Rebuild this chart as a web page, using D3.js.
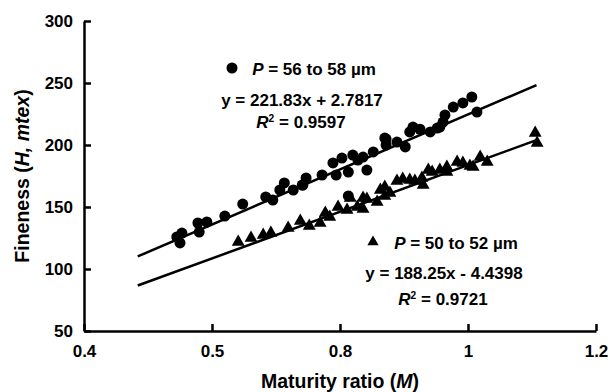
<!DOCTYPE html>
<html>
<head>
<meta charset="utf-8">
<script src="https://cdn.jsdelivr.net/npm/d3@7"></script>
<style>
  body { margin: 0; background: #fff; }
  svg text { font-family: "Liberation Sans", Arial, sans-serif; font-weight: bold; fill: #000; }
</style>
</head>
<body>
<svg id="chart" width="613" height="392"></svg>
<script>
// x tick values and the labels as printed on the original
const xTicks = [0.4, 0.6, 0.8, 1.0, 1.2];
const xTickLabels = ["0.4", "0.5", "0.8", "1", "1.2"];
const yTicks = [50, 100, 150, 200, 250, 300];

// P = 56 to 58 um (circles)
const circleX = [0.545, 0.553, 0.550, 0.578, 0.580, 0.592, 0.620, 0.648, 0.684, 0.695,
  0.706, 0.713, 0.727, 0.741, 0.747, 0.772, 0.789, 0.794, 0.803, 0.813,
  0.820, 0.828, 0.836, 0.842, 0.852, 0.870, 0.872, 0.889, 0.902, 0.909,
  0.914, 0.925, 0.941, 0.952, 0.956, 0.964, 0.961, 0.977, 0.992, 1.006,
  1.014, 0.813, 0.742, 0.872];
const circleY = [125.8, 129.0, 121.0, 137.1, 129.8, 137.9, 142.7, 152.4, 158.1, 155.6,
  163.7, 169.4, 163.7, 167.7, 173.4, 175.8, 185.5, 175.8, 189.5, 178.2,
  191.9, 187.9, 190.3, 179.8, 194.4, 205.6, 200.0, 202.4, 198.4, 210.5,
  214.5, 212.7, 210.5, 213.7, 214.5, 224.2, 218.5, 230.6, 233.9, 238.7,
  226.6, 158.9, 167.7, 204.8];

// P = 50 to 52 um (triangles)
const triX = [0.641, 0.661, 0.680, 0.692, 0.719, 0.738, 0.752, 0.769, 0.777, 0.784,
  0.797, 0.811, 0.816, 0.827, 0.836, 0.836, 0.842, 0.858, 0.863, 0.870,
  0.870, 0.878, 0.889, 0.898, 0.909, 0.917, 0.928, 0.930, 0.938, 0.944,
  0.956, 0.967, 0.967, 0.983, 0.992, 1.003, 1.008, 1.019, 1.030, 1.105, 1.108];
const triY = [121.8, 125.0, 127.4, 129.0, 133.1, 138.7, 134.7, 137.1, 145.2, 141.9,
  150.0, 147.6, 157.3, 150.0, 148.4, 157.3, 156.5, 154.0, 163.7, 158.9,
  166.1, 161.3, 171.0, 172.6, 171.8, 171.0, 173.4, 167.7, 179.8, 178.2,
  179.8, 178.2, 182.3, 186.3, 185.5, 183.1, 182.3, 190.3, 186.3, 209.7, 201.6];

// trend lines: y = slope * x + intercept
const fitSlope = [221.83, 188.25];
const fitIntercept = [2.7817, -4.4398];
const fitRange = [0.484, 1.107];

const svg = d3.select("#chart");

const x = d3.scaleLinear().domain([0.4, 1.2]).range([84, 596]);
const y = d3.scaleLinear().domain([50, 300]).range([331, 21]);

// axes
const xAxis = d3.axisBottom(x)
    .tickValues(xTicks)
    .tickFormat((d, i) => xTickLabels[i])
    .tickSizeInner(-7)
    .tickSizeOuter(0)
    .tickPadding(14);

const yAxis = d3.axisLeft(y)
    .tickValues(yTicks)
    .tickSizeInner(-7)
    .tickSizeOuter(0)
    .tickPadding(11);

const gx = svg.append("g").attr("transform", "translate(0,331)").call(xAxis);
const gy = svg.append("g").attr("transform", "translate(84,0)").call(yAxis);

[gx, gy].forEach(g => {
    g.selectAll("path, line").attr("stroke", "#000").attr("stroke-width", 2.5);
    g.selectAll("text").style("font-size", "17px").attr("fill", "#000");
});

// trend lines
const line = d3.line().x(d => x(d[0])).y(d => y(d[1]));
fitSlope.forEach((s, i) => {
    svg.append("path")
        .attr("d", line(fitRange.map(v => [v, s * v + fitIntercept[i]])))
        .attr("fill", "none")
        .attr("stroke", "#000")
        .attr("stroke-width", 2.5);
});

// points
svg.append("g").selectAll("circle")
    .data(d3.zip(circleX, circleY))
    .join("circle")
    .attr("cx", d => x(d[0]))
    .attr("cy", d => y(d[1]))
    .attr("r", 5.5)
    .attr("fill", "#000");

const tri = d3.symbol(d3.symbolTriangle, 72);
svg.append("g").selectAll("path")
    .data(d3.zip(triX, triY))
    .join("path")
    .attr("transform", d => `translate(${x(d[0])},${y(d[1])})`)
    .attr("d", tri)
    .attr("fill", "#000");

// annotations
function label(g, cx, base, parts, size) {
    const t = g.append("text")
        .attr("x", cx)
        .attr("y", base)
        .attr("text-anchor", "middle")
        .style("font-size", size + "px");
    parts.forEach(p => {
        const s = t.append("tspan").text(p.t);
        if (p.i) s.style("font-style", "italic");
        if (p.sup) s.attr("dy", -6).style("font-size", (size * 0.6) + "px");
        if (p.down) s.attr("dy", 6);
    });
    return t;
}

const ann = svg.append("g");
ann.append("circle").attr("cx", 232).attr("cy", 68).attr("r", 5.5).attr("fill", "#000");
label(ann, 314, 75, [{ t: "P", i: true }, { t: " = 56 to 58 µm" }], 17);
label(ann, 302, 106, [{ t: "y = 221.83x + 2.7817" }], 17);
label(ann, 301, 128, [{ t: "R", i: true }, { t: "2", sup: true }, { t: " = 0.9597", down: true }], 17);

ann.append("path").attr("transform", "translate(373,242)").attr("d", d3.symbol(d3.symbolTriangle, 55)).attr("fill", "#000");
label(ann, 456, 249, [{ t: "P", i: true }, { t: " = 50 to 52 µm" }], 17);
label(ann, 444, 279, [{ t: "y = 188.25x - 4.4398" }], 17);
label(ann, 443, 305, [{ t: "R", i: true }, { t: "2", sup: true }, { t: " = 0.9721", down: true }], 17);

// axis titles
label(svg, 340, 388, [{ t: "Maturity ratio (" }, { t: "M", i: true }, { t: ")" }], 19.5);
label(svg.append("g").attr("transform", "translate(29,176) rotate(-90)"), 0, 0,
    [{ t: "Fineness (" }, { t: "H, mtex", i: true }, { t: ")" }], 19.5);
</script>
</body>
</html>
